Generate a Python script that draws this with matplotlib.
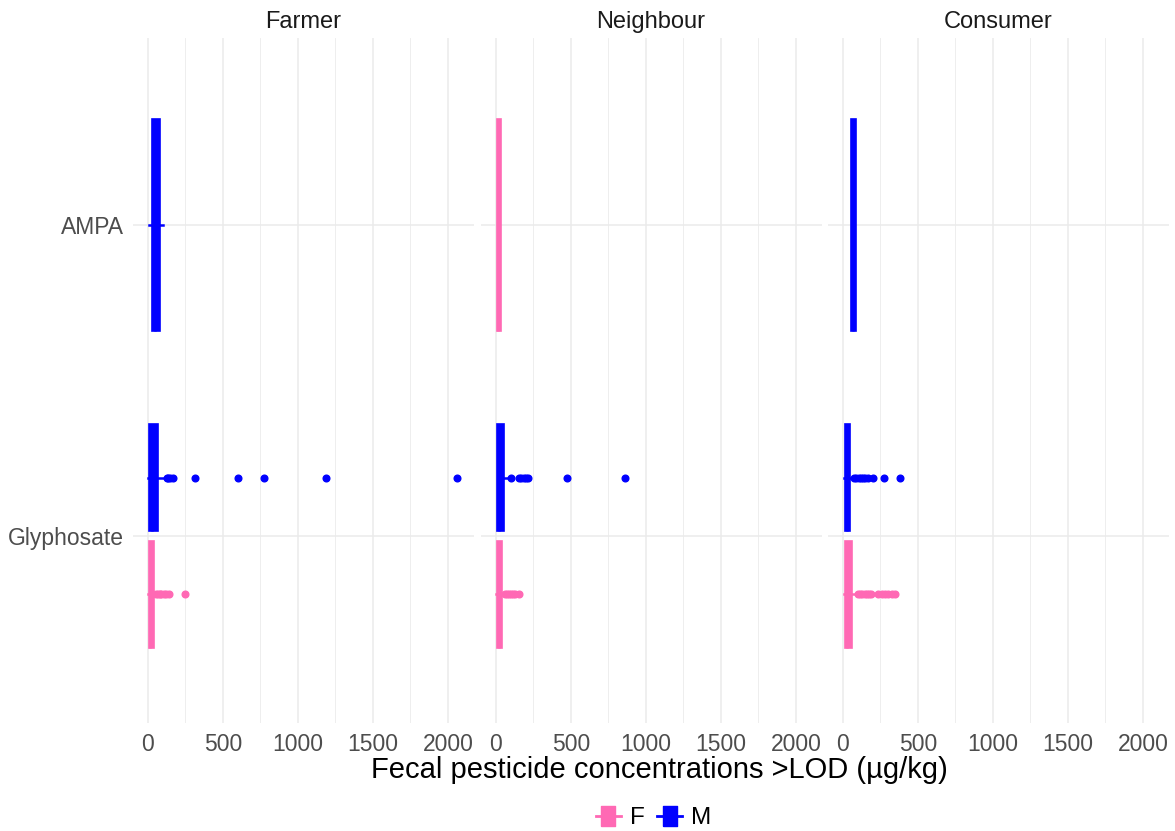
import matplotlib
matplotlib.use('Agg')
import matplotlib.pyplot as plt
from matplotlib.lines import Line2D

plt.rcParams['font.family'] = ['Liberation Sans', 'DejaVu Sans']

facets = ['Farmer', 'Neighbour', 'Consumer']
compounds = ['Glyphosate', 'AMPA']
sex_colors = {'F': '#FF69B4', 'M': '#0000FF'}
x_ticks = [0, 500, 1000, 1500, 2000]

# five-number summaries [whislo, q1, med, q3, whishi], µg/kg
farmer_gly_f = [0, 7, 15, 40, 50]
farmer_gly_m = [0, 7, 25, 67, 112]
farmer_ampa_m = [9, 27, 50, 80, 98]
neigh_gly_f = [0, 9, 18, 42, 55]
neigh_gly_m = [5, 9, 22, 53, 95]
neigh_ampa_f = [4, 4, 12, 31, 31]
cons_gly_f = [5, 13, 30, 58, 98]
cons_gly_m = [8, 13, 25, 47, 68]
cons_ampa_m = [53, 53, 68, 85, 85]

# outliers
farmer_gly_f_out = [55, 65, 78, 90, 105, 120, 140, 247]
farmer_gly_m_out = [124, 135, 150, 164, 313, 600, 773, 1187, 2060]
farmer_ampa_m_out = []
neigh_gly_f_out = [60, 72, 85, 100, 115, 130, 155]
neigh_gly_m_out = [100, 153, 170, 185, 200, 215, 471, 862]
neigh_ampa_f_out = []
cons_gly_f_out = [102, 115, 130, 145, 160, 175, 187, 236, 258, 280, 300, 325, 347]
cons_gly_m_out = [75, 90, 105, 120, 135, 150, 169, 202, 276, 382]
cons_ampa_m_out = []

# (facet, compound, sex, summary, outliers)
groups = [
    ('Farmer', 'Glyphosate', 'F', farmer_gly_f, farmer_gly_f_out),
    ('Farmer', 'Glyphosate', 'M', farmer_gly_m, farmer_gly_m_out),
    ('Farmer', 'AMPA', 'M', farmer_ampa_m, farmer_ampa_m_out),
    ('Neighbour', 'Glyphosate', 'F', neigh_gly_f, neigh_gly_f_out),
    ('Neighbour', 'Glyphosate', 'M', neigh_gly_m, neigh_gly_m_out),
    ('Neighbour', 'AMPA', 'F', neigh_ampa_f, neigh_ampa_f_out),
    ('Consumer', 'Glyphosate', 'F', cons_gly_f, cons_gly_f_out),
    ('Consumer', 'Glyphosate', 'M', cons_gly_m, cons_gly_m_out),
    ('Consumer', 'AMPA', 'M', cons_ampa_m, cons_ampa_m_out),
]

W, H = 1175, 831
fig = plt.figure(figsize=(W / 100, H / 100), dpi=100)

lefts = [132.5, 480.5, 827.5]
pw = 341
top, bottom = 38, 723
tick_col = '#4D4D4D'
grid_col = '#EBEBEB'

for i, facet in enumerate(facets):
    ax = fig.add_axes([lefts[i] / W, 1 - bottom / H, pw / W, (bottom - top) / H])
    ax.set_xlim(-103, 2170)
    ax.set_ylim(-0.6, 1.6)
    for s in ax.spines.values():
        s.set_visible(False)
    ax.set_xticks(x_ticks)
    ax.set_xticks([250, 750, 1250, 1750], minor=True)
    ax.set_yticks([0, 1])
    ax.grid(True, which='major', color=grid_col, lw=1.1)
    ax.grid(True, which='minor', axis='x', color=grid_col, lw=0.6)
    ax.set_axisbelow(True)
    ax.tick_params(which='both', length=0)
    ax.tick_params(axis='x', labelsize=16.5, labelcolor=tick_col, pad=7)
    if i == 0:
        ax.set_yticklabels(compounds, fontsize=16.5, color=tick_col)
        ax.tick_params(axis='y', pad=6)
    else:
        ax.set_yticklabels([])

    for f, comp, sex, summ, outl in groups:
        if f != facet:
            continue
        n = sum(1 for g in groups if g[0] == facet and g[1] == comp)
        ypos = compounds.index(comp)
        if n == 2:
            ypos += -0.186 if sex == 'F' else 0.188
            wd = 0.344
        else:
            wd = 0.68
        c = sex_colors[sex]
        stat = dict(whislo=summ[0], q1=summ[1], med=summ[2], q3=summ[3],
                    whishi=summ[4], fliers=outl)
        ax.bxp([stat], positions=[ypos], widths=[wd], orientation='horizontal',
               patch_artist=True, showcaps=False, manage_ticks=False,
               boxprops=dict(facecolor=c, edgecolor=c, lw=1.2),
               whiskerprops=dict(color=c, lw=1.8),
               medianprops=dict(color=c, lw=1.8),
               flierprops=dict(marker='o', markerfacecolor=c, markeredgecolor=c,
                               markersize=4.8, linestyle='none'))

    fig.text((lefts[i] + pw / 2) / W, 1 - 22 / H, facet, ha='center', va='center',
             fontsize=17, color='#1A1A1A')

fig.text(659 / W, 1 - 770 / H, 'Fecal pesticide concentrations >LOD (µg/kg)',
         ha='center', va='center', fontsize=21, color='black')

rect = [(-0.7, -1), (0.7, -1), (0.7, 1), (-0.7, 1), (-0.7, -1)]
handles = [Line2D([0], [0], color=sex_colors[s], lw=2, marker=rect, markersize=14,
                  markerfacecolor=sex_colors[s], markeredgecolor=sex_colors[s])
           for s in ['F', 'M']]
fig.legend(handles, ['F', 'M'], loc='center', bbox_to_anchor=(654 / W, 1 - 818 / H),
           ncol=2, frameon=False, fontsize=17.5, handlelength=1.0, handletextpad=0.4,
           columnspacing=0.5)

fig.savefig('out.png', dpi=100)
